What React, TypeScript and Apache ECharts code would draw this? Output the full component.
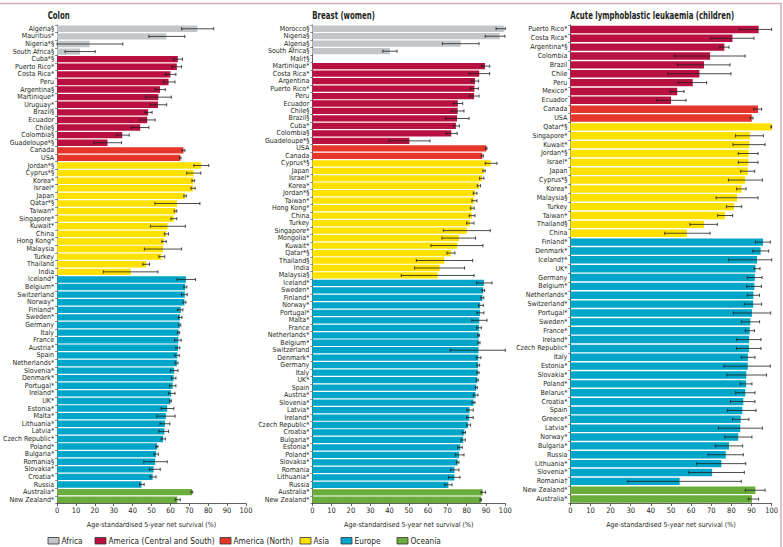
import React, { useEffect, useRef } from 'react';
import * as echarts from 'echarts';

const regionNames = ['Africa', 'America (Central and South)', 'America (North)', 'Asia', 'Europe', 'Oceania'];
const regionColors = ['#c3c6c8', '#b8103f', '#e6352a', '#ffe100', '#00a5c8', '#6aad3c'];

// ---------- Colon ----------
const colonCountries = [
  'Algeria§', 'Mauritius*', 'Nigeria*§', 'South Africa§',
  'Cuba*§', 'Puerto Rico*', 'Costa Rica*', 'Peru', 'Argentina§', 'Martinique*', 'Uruguay*', 'Brazil§', 'Ecuador', 'Chile§', 'Colombia§', 'Guadeloupe*§',
  'Canada', 'USA',
  'Jordan*§', 'Cyprus*§', 'Korea*', 'Israel*', 'Japan', 'Qatar*§', 'Taiwan*', 'Singapore*', 'Kuwait*', 'China', 'Hong Kong*', 'Malaysia', 'Turkey', 'Thailand', 'India',
  'Iceland*', 'Belgium*', 'Switzerland', 'Norway*', 'Finland*', 'Sweden*', 'Germany', 'Italy', 'France', 'Austria*', 'Spain', 'Netherlands*', 'Slovenia*', 'Denmark*', 'Portugal*', 'Ireland*', 'UK*', 'Estonia*', 'Malta*', 'Lithuania*', 'Latvia*', 'Czech Republic*', 'Poland*', 'Bulgaria*', 'Romania§', 'Slovakia*', 'Croatia*', 'Russia',
  'Australia*', 'New Zealand*',
];
const colonGroupSizes = [4, 12, 2, 15, 28, 2];
const colonValues = [
  74.3, 57.8, 17.3, 12.1,
  63.9, 63.4, 60.0, 59.0, 54.5, 53.6, 53.4, 48.2, 47.7, 44.0, 34.5, 26.7,
  66.9, 65.2,
  76.3, 72.3, 72.1, 71.9, 67.7, 63.5, 62.7, 61.7, 58.5, 57.8, 56.6, 56.1, 55.3, 47.2, 39.0,
  68.2, 67.8, 67.6, 67.4, 65.5, 65.0, 64.9, 64.4, 64.2, 64.1, 63.7, 63.4, 62.0, 61.7, 61.2, 60.4, 60.0, 58.3, 57.6, 57.1, 56.8, 56.1, 52.9, 52.4, 51.9, 51.1, 50.6, 44.7,
  71.4, 63.7,
];
const colonLow = [
  65.9, 48.6, 0, 4.2,
  61.7, 60.8, 57.5, 56.3, 51.9, 46.9, 49.2, 46.6, 43.9, 39.3, 31.3, 19.5,
  66.2, 64.7,
  72.4, 68.6, 71.4, 70.9, 67.1, 51.8, 62.0, 60.3, 49.4, 56.8, 55.5, 46.2, 53.9, 45.4, 24.5,
  63.5, 67.1, 65.9, 66.7, 63.7, 64.2, 64.4, 63.7, 62.2, 62.9, 62.4, 62.5, 60.0, 60.5, 59.5, 59.0, 59.5, 55.1, 52.8, 54.5, 53.9, 55.1, 52.3, 51.3, 45.9, 48.9, 49.2, 43.7,
  70.9, 62.5,
];
const colonHigh = [
  82.9, 67.6, 34.8, 20.2,
  66.4, 65.9, 62.9, 62.4, 57.3, 60.5, 58.0, 50.3, 51.9, 48.6, 38.2, 34.1,
  67.7, 65.6,
  80.3, 76.1, 72.8, 73.1, 68.4, 75.6, 63.4, 63.4, 67.9, 59.0, 57.8, 65.9, 57.0, 48.9, 53.4,
  73.3, 68.7, 68.9, 68.2, 66.6, 66.1, 65.5, 64.9, 65.7, 65.0, 64.7, 64.0, 64.0, 62.9, 62.9, 62.4, 60.5, 61.8, 62.5, 59.7, 59.0, 57.3, 53.4, 53.6, 58.3, 54.6, 52.4, 46.1,
  71.8, 65.2,
];

// ---------- Breast (women) ----------
const breastCountries = [
  'Morocco§', 'Nigeria§', 'Algeria§', 'South Africa§', 'Mali†§',
  'Martinique*', 'Costa Rica*', 'Argentina', 'Puerto Rico*', 'Peru', 'Ecuador', 'Chile§', 'Brazil§', 'Cuba*', 'Colombia§', 'Guadeloupe*§',
  'USA', 'Canada',
  'Cyprus*§', 'Japan', 'Israel*', 'Korea*', 'Jordan*§', 'Taiwan*', 'Hong Kong*', 'China', 'Turkey', 'Singapore*', 'Mongolia*', 'Kuwait*', 'Qatar*§', 'Thailand§', 'India', 'Malaysia§',
  'Iceland*', 'Sweden*', 'Finland*', 'Norway*', 'Portugal*', 'Malta*', 'France', 'Netherlands*', 'Belgium*', 'Switzerland', 'Denmark*', 'Germany', 'Italy', 'UK*', 'Spain', 'Austria*', 'Slovenia*', 'Latvia*', 'Ireland*', 'Czech Republic*', 'Croatia*', 'Bulgaria*', 'Estonia*', 'Poland*', 'Slovakia*', 'Romania', 'Lithuania*', 'Russia',
  'Australia*', 'New Zealand*',
];
const breastGroupSizes = [5, 11, 2, 16, 28, 2];
const breastValues: (number | string)[] = [
  99.3, 97.1, 76.9, 40.2, '-',
  89.5, 86.5, 84.3, 84.0, 83.8, 75.4, 75.3, 75.0, 74.4, 72.0, 50.3,
  90.2, 88.1,
  92.4, 88.9, 87.9, 86.4, 84.3, 83.9, 82.9, 82.7, 81.7, 80.1, 76.0, 75.1, 71.8, 68.4, 66.0, 64.9,
  88.9, 88.6, 88.1, 87.0, 86.9, 86.5, 86.4, 86.3, 86.2, 86.1, 86.0, 85.9, 85.8, 85.5, 85.0, 84.6, 83.6, 81.5, 81.3, 80.7, 78.8, 78.2, 76.7, 76.0, 75.3, 73.7, 73.6, 70.5,
  88.3, 87.4,
];
const breastLow: (number | string)[] = [
  95.2, 89.6, 67.4, 36.6, '-',
  87.6, 81.3, 82.4, 81.9, 81.3, 73.2, 72.0, 69.1, 73.4, 69.3, 39.7,
  89.8, 87.6,
  89.6, 88.4, 86.7, 85.5, 83.4, 82.7, 81.9, 81.3, 80.0, 67.9, 67.2, 61.5, 69.8, 53.9, 53.0, 46.1,
  85.1, 87.9, 87.4, 86.2, 85.3, 82.7, 85.1, 85.7, 85.8, 71.5, 85.0, 85.3, 85.3, 85.0, 84.5, 83.4, 82.7, 80.1, 80.0, 80.0, 77.7, 77.0, 75.3, 74.1, 74.8, 71.7, 70.6, 68.6,
  87.4, 86.9,
];
const breastHigh: (number | string)[] = [
  100, 99.8, 86.4, 43.9, '-',
  91.9, 91.9, 86.2, 86.0, 86.4, 77.9, 78.6, 81.2, 76.2, 75.1, 61.0,
  90.5, 88.6,
  95.7, 89.6, 88.9, 87.2, 85.3, 85.3, 83.9, 84.3, 83.8, 92.2, 84.6, 88.4, 73.9, 83.1, 78.9, 83.8,
  93.1, 89.3, 88.9, 88.6, 88.9, 90.5, 87.6, 86.7, 86.9, 100, 87.4, 86.7, 86.4, 86.0, 85.5, 85.8, 84.3, 83.4, 83.4, 82.0, 79.4, 79.3, 77.7, 78.6, 76.0, 76.0, 76.5, 72.4,
  89.8, 87.7,
];

// ---------- Acute lymphoblastic leukaemia (children) ----------
const allCountries = [
  'Puerto Rico*', 'Costa Rica*', 'Argentina*§', 'Colombia', 'Brazil', 'Chile', 'Peru', 'Mexico*', 'Ecuador',
  'Canada', 'USA',
  'Qatar*§', 'Singapore*', 'Kuwait*', 'Jordan*§', 'Israel*', 'Japan', 'Cyprus*§', 'Korea*', 'Malaysia§', 'Turkey', 'Taiwan*', 'Thailand§', 'China',
  'Finland*', 'Denmark*', 'Iceland†*', 'UK*', 'Germany', 'Belgium*', 'Netherlands*', 'Switzerland*', 'Portugal*', 'Sweden*', 'France*', 'Ireland*', 'Czech Republic*', 'Italy', 'Estonia*', 'Slovakia*', 'Poland*', 'Belarus*', 'Croatia*', 'Spain', 'Greece*', 'Latvia*', 'Norway*', 'Bulgaria*', 'Russia', 'Lithuania*', 'Slovenia*', 'Romania†',
  'New Zealand*', 'Australia*',
];
const allGroupSizes = [0, 9, 2, 13, 28, 2];
const allValues = [
  93.5, 80.5, 76.5, 69.4, 66.4, 64.1, 60.8, 53.1, 50.0,
  93.2, 90.1,
  100, 89.2, 88.9, 88.5, 88.4, 88.1, 86.8, 85.1, 82.8, 81.3, 76.8, 66.4, 57.9,
  95.7, 94.5, 92.7, 92.0, 91.6, 91.4, 90.9, 90.8, 90.2, 89.4, 89.1, 88.8, 88.7, 88.2, 88.1, 87.4, 87.3, 86.9, 85.9, 85.4, 84.6, 84.4, 83.4, 78.8, 77.2, 75.0, 70.4, 54.3,
  91.9, 90.2,
];
const allLow = [
  83.9, 69.7, 74.2, 51.7, 53.3, 48.5, 53.6, 49.7, 42.9,
  91.1, 89.4,
  99.6, 82.0, 80.8, 83.4, 83.4, 84.6, 78.5, 82.6, 72.4, 77.5, 73.2, 59.4, 46.9,
  91.9, 90.6, 78.6, 91.2, 87.9, 87.6, 87.9, 86.4, 81.0, 84.9, 86.9, 82.6, 82.5, 84.9, 76.3, 77.8, 84.4, 82.1, 79.5, 78.0, 80.5, 73.5, 76.8, 72.0, 68.5, 62.7, 58.8, 28.5,
  86.9, 88.4,
];
const allHigh = [
  100, 91.2, 78.8, 86.8, 79.3, 79.8, 67.7, 56.5, 57.5,
  95.0, 90.7,
  100, 95.9, 96.7, 93.2, 93.2, 91.6, 95.4, 87.3, 93.2, 85.1, 80.6, 73.0, 69.4,
  99.3, 98.5, 100, 94.2, 95.2, 94.9, 93.9, 95.0, 99.5, 94.0, 91.4, 94.7, 94.7, 91.7, 99.3, 97.4, 90.2, 91.7, 91.7, 92.2, 88.7, 95.4, 90.2, 85.6, 85.9, 87.1, 86.4, 84.9,
  96.7, 93.5,
];

const titles = ['Colon', 'Breast (women)', 'Acute lymphoblastic leukaemia (children)'];
const axisName = 'Age-standardised 5-year net survival (%)';

const FONT = "'Liberation Sans Narrow', 'DejaVu Sans Condensed', 'Roboto', sans-serif";
const TEXT = '#231f20';
const AXIS = '#3a3a3a';

const panels = [
  { countries: colonCountries, groups: colonGroupSizes, values: colonValues, low: colonLow, high: colonHigh, left: 47.7, width: 198.3 },
  { countries: breastCountries, groups: breastGroupSizes, values: breastValues, low: breastLow, high: breastHigh, left: 312.3, width: 193 },
  { countries: allCountries, groups: allGroupSizes, values: allValues, low: allLow, high: allHigh, left: 570.3, width: 201.4 },
];

// legend layout (pixel positions of the key boxes)
const legendBoxX = [48, 95, 220, 300, 341, 397];

function regionIndexList(groups: number[]): number[] {
  const out: number[] = [];
  groups.forEach((n, r) => {
    for (let k = 0; k < n; k++) out.push(r);
  });
  return out;
}

function buildOption() {
  const grids: any[] = [];
  const xAxes: any[] = [];
  const yAxes: any[] = [];
  const series: any[] = [];
  const graphics: any[] = [];

  panels.forEach((p, gi) => {
    grids.push({ left: p.left, top: 25, width: p.width, height: 478.5, containLabel: false });
    graphics.push({
      type: 'text', x: p.left, y: 15.5, scaleX: 0.74, silent: true,
      style: {
        text: titles[gi], fontSize: 10.5, fontWeight: 'bold', fontFamily: FONT, fill: TEXT,
        textAlign: 'left', textVerticalAlign: 'middle', align: 'left', verticalAlign: 'middle',
      },
    });
    xAxes.push({
      type: 'value', gridIndex: gi, min: 0, max: 100, interval: 10,
      name: axisName, nameLocation: 'middle', nameGap: 18,
      nameTextStyle: { fontSize: 7, fontFamily: FONT, color: TEXT },
      axisLine: { show: true, lineStyle: { color: AXIS, width: 0.8 } },
      axisTick: { show: true, length: 2.5, lineStyle: { color: AXIS, width: 0.8 } },
      axisLabel: { fontSize: 7.5, fontFamily: FONT, color: TEXT, margin: 3 },
      splitLine: { show: false },
    });
    yAxes.push({
      type: 'category', gridIndex: gi, data: p.countries, inverse: true,
      axisLine: { show: true, lineStyle: { color: AXIS, width: 0.8 } },
      axisTick: { show: true, length: 2, lineStyle: { color: AXIS, width: 0.6 } },
      axisLabel: { fontSize: 7, fontFamily: FONT, color: TEXT, margin: 3, interval: 0 },
      splitLine: { show: false },
    });
    const regionIdx = regionIndexList(p.groups);
    regionNames.forEach((rn, r) => {
      if (!p.groups[r]) return;
      series.push({
        type: 'bar', name: rn, xAxisIndex: gi, yAxisIndex: gi,
        barGap: '-100%', barCategoryGap: '16%',
        itemStyle: { color: regionColors[r] },
        data: p.values.map((v, i) => (regionIdx[i] === r ? v : '-')),
        z: 2,
      });
    });
    const errData: any[] = [];
    p.low.forEach((lo, i) => {
      if (lo === '-' || p.high[i] === '-') return;
      errData.push([lo, p.high[i], i]);
    });
    series.push({
      type: 'custom', name: 'err' + gi, xAxisIndex: gi, yAxisIndex: gi,
      encode: { x: [0, 1], y: 2 }, z: 5, silent: true,
      renderItem: (params: any, api: any) => {
        const lo = api.value(0);
        const hi = api.value(1);
        const idx = api.value(2);
        const a = api.coord([lo, idx]);
        const b = api.coord([hi, idx]);
        const h = 1.6;
        const st = { stroke: '#1e1e1e', lineWidth: 0.8 };
        return {
          type: 'group',
          children: [
            { type: 'line', shape: { x1: a[0], y1: a[1], x2: b[0], y2: b[1] }, style: st },
            { type: 'line', shape: { x1: a[0], y1: a[1] - h, x2: a[0], y2: a[1] + h }, style: st },
            { type: 'line', shape: { x1: b[0], y1: b[1] - h, x2: b[0], y2: b[1] + h }, style: st },
          ],
        };
      },
      data: errData,
    });
  });

  regionNames.forEach((rn, r) => {
    const x = legendBoxX[r];
    graphics.push({
      type: 'rect', silent: true,
      shape: { x: x, y: 537.5, width: 11, height: 6.5 },
      style: { fill: regionColors[r], stroke: '#333', lineWidth: 0.8 },
    });
    graphics.push({
      type: 'text', x: x + 13.5, y: 541, scaleX: 0.92, silent: true,
      style: {
        text: rn, fontSize: 9, fontFamily: FONT, fill: TEXT,
        textAlign: 'left', textVerticalAlign: 'middle', align: 'left', verticalAlign: 'middle',
      },
    });
  });

  graphics.push({
    type: 'polyline', silent: true,
    shape: { points: [[0, 3.5], [781, 3.5], [781, 547]] },
    style: { stroke: '#d9aabd', lineWidth: 1.5, fill: 'none' },
  });

  return {
    animation: false,
    backgroundColor: '#ffffff',
    grid: grids,
    xAxis: xAxes,
    yAxis: yAxes,
    graphic: graphics,
    series,
  };
}

export default function App() {
  const ref = useRef<HTMLDivElement>(null);
  useEffect(() => {
    if (!ref.current) return;
    const chart = echarts.init(ref.current, undefined, { renderer: 'svg' });
    chart.setOption(buildOption() as any);
    return () => chart.dispose();
  }, []);
  return (
    <div
      ref={ref}
      style={{ position: 'absolute', left: 0, top: 0, width: 783, height: 547, background: '#fff' }}
    />
  );
}
